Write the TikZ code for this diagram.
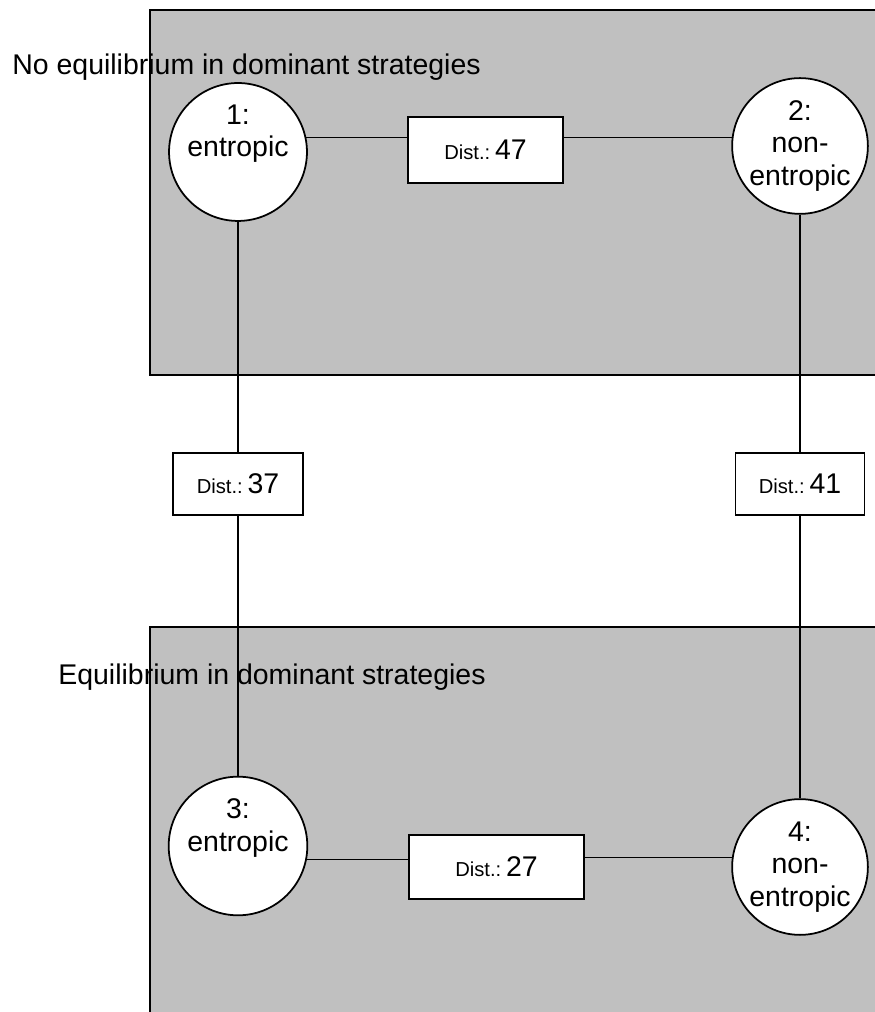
\documentclass[tikz,border=0pt]{standalone}
\usepackage{fontspec}
\setmainfont{Liberation Sans}
\definecolor{areagray}{RGB}{192,192,192}
\newcommand{\bigtxt}{\fontsize{16.2}{18.5}\selectfont}
\newcommand{\smalltxt}{\fontsize{11.5}{13}\selectfont}
\newcommand{\dist}[1]{{\smalltxt Dist.:}\,#1}

\begin{document}
\begin{tikzpicture}[
  link/.style={line width=1pt},
  state/.style={circle, draw=black, link, fill=white, minimum size=2.6cm, inner sep=0pt, align=center, font=\bigtxt},
  distbox/.style={rectangle, draw=black, link, fill=white, inner sep=0pt, font=\bigtxt},
  area/.style={draw=black, link, fill=areagray},
  title/.style={anchor=base west, inner sep=0pt, font=\bigtxt}
]
\useasboundingbox (0,0) rectangle (17.5,20.24);
\draw[area] (3,12.74) rectangle (17.6,20.04);
\draw[area] (3,-0.1) rectangle (17.6,7.7);
\node[title] (t1) at (0.24,18.74) {No equilibrium in dominant strategies};
\node[title] (t2) at (1.16,6.54) {Equilibrium in dominant strategies};

\node[state] (c1) at (4.76,17.2) {1:\\entropic\\\strut};
\node[state] (c2) at (16,17.32) {2:\\non-\\entropic};
\node[state] (c3) at (4.76,3.32) {3:\\entropic\\\strut};
\node[state] (c4) at (16,2.9) {4:\\non-\\entropic};

\node[distbox, minimum width=3.1cm, minimum height=1.32cm] (d12) at (9.71,17.24) {\dist{47}};
\node[distbox, minimum width=2.6cm, minimum height=1.24cm] (d13) at (4.76,10.56) {\dist{37}};
\node[distbox, minimum width=2.58cm, minimum height=1.24cm] (d24) at (16,10.56) {\dist{41}};
\node[distbox, minimum width=3.5cm, minimum height=1.28cm] (d34) at (9.93,2.9) {\dist{27}};

\draw[link] (c1.12) -- (c1.12 -| d12.west);
\draw[link] (d12.east |- c2.173) -- (c2.173);
\draw[link] (c3.-11) -- (c3.-11 -| d34.west);
\draw[link] (d34.east |- c4.172) -- (c4.172);
\foreach \a/\b in {c1/d13, d13/c3, c2/d24, d24/c4}{
\draw[link] (\a) -- (\b);
}
\end{tikzpicture}
\end{document}
